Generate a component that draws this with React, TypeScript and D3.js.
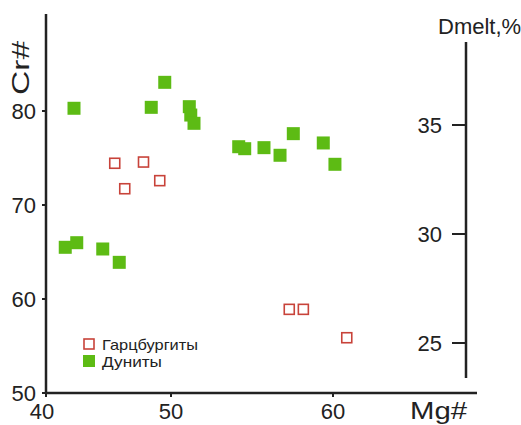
import React from 'react';
import * as d3 from 'd3';

const harzX = [45.5, 47.8, 46.3, 49.1, 57.3, 58.17, 60.85];
const harzY = [74.44, 74.57, 71.73, 72.59, 58.9, 58.9, 55.88];
const duniteX = [42.24, 48.42, 49.5, 51.13, 51.22, 51.42, 54.18, 54.55, 55.74, 56.73, 57.55, 59.4, 60.12, 41.54, 42.46, 44.54, 45.86];
const duniteY = [80.29, 80.39, 83.05, 80.46, 79.57, 78.69, 76.2, 75.99, 76.1, 75.29, 77.59, 76.6, 74.33, 65.5, 65.99, 65.32, 63.9];
const xTicks = [40, 50, 60];
const yTicks = [50, 60, 70, 80];
const dTicks = [25, 30, 35];
const legendLabels = ['Гарцбургиты', 'Дуниты'];

const W = 521, H = 425;
const FONT = 'Liberation Sans, Arial, sans-serif';
const GREEN = '#5dbb14';
const RED = '#c8433a';
const INK = '#222';

export default function App() {
  const x = d3.scaleLinear().domain([40, 50, 60]).range([46, 171, 333]);
  const y = d3.scaleLinear().domain([50, 80]).range([393, 111]);
  const yTop = y.invert(14);
  const d = d3.scaleLinear().domain([25, 35]).range([343, 125]);
  const dTop = d.invert(42), dBot = d.invert(378);
  const xEnd = x.invert(477);
  const rightX = x(x.invert(466));
  const gs = 13, rs = 10;
  return (
    <svg width={W} height={H} style={{ position: 'absolute', left: 0, top: 0, background: '#fff' }} fontFamily={FONT}>
      {/* left axis */}
      <line x1={x(40)} x2={x(40)} y1={y(yTop)} y2={y(50)} stroke={INK} strokeWidth={2.5} />
      {yTicks.map(t => (
        <g key={'y' + t}>
          <line x1={x(40) - 4} x2={x(40)} y1={y(t)} y2={y(t)} stroke={INK} strokeWidth={2} />
          <text x={x(40) - 10} y={y(t)} dy="0.36em" textAnchor="end" fontSize={22} fill={INK}>{t}</text>
        </g>
      ))}
      <text transform={`translate(29,68) rotate(-90) scale(1.4,1)`} textAnchor="middle" fontSize={24} fill={INK}>Cr#</text>
      {/* bottom axis */}
      <line x1={x(40)} x2={x(xEnd)} y1={y(50)} y2={y(50)} stroke={INK} strokeWidth={2.5} />
      {xTicks.map(t => (
        <g key={'x' + t}>
          <line x1={x(t)} x2={x(t)} y1={y(50)} y2={y(50) + 4} stroke={INK} strokeWidth={2} />
          <text x={x(t) - (t === 40 ? 4 : 0)} y={419} textAnchor="middle" fontSize={22} fill={INK}>{t}</text>
        </g>
      ))}
      <text x={410} y={419} fontSize={24} textLength={57} lengthAdjust="spacingAndGlyphs" fill={INK}>Mg#</text>
      {/* right axis */}
      <line x1={rightX} x2={rightX} y1={d(dTop)} y2={d(dBot)} stroke={INK} strokeWidth={2.5} />
      {dTicks.map(t => (
        <g key={'d' + t}>
          <line x1={rightX - 14} x2={rightX} y1={d(t)} y2={d(t)} stroke={INK} strokeWidth={2} />
          <text x={rightX - 24} y={d(t)} dy="0.36em" textAnchor="end" fontSize={22} fill={INK}>{t}</text>
        </g>
      ))}
      <text x={438} y={34} fontSize={22} fill={INK}>Dmelt,%</text>
      {/* points */}
      {duniteX.map((v, i) => (
        <rect key={'g' + i} x={x(v) - gs / 2} y={y(duniteY[i]) - gs / 2} width={gs} height={gs} fill={GREEN} />
      ))}
      {harzX.map((v, i) => (
        <rect key={'r' + i} x={x(v) - rs / 2} y={y(harzY[i]) - rs / 2} width={rs} height={rs} fill="#fff" stroke={RED} strokeWidth={1.6} />
      ))}
      {/* legend */}
      <rect x={84} y={339} width={10} height={10} fill="#fff" stroke={RED} strokeWidth={1.6} />
      <text x={102} y={350} fontSize={15} textLength={96} lengthAdjust="spacingAndGlyphs" fill={INK}>{legendLabels[0]}</text>
      <rect x={83} y={355} width={12} height={12} fill={GREEN} />
      <text x={102} y={367} fontSize={15} textLength={60} lengthAdjust="spacingAndGlyphs" fill={INK}>{legendLabels[1]}</text>
    </svg>
  );
}
